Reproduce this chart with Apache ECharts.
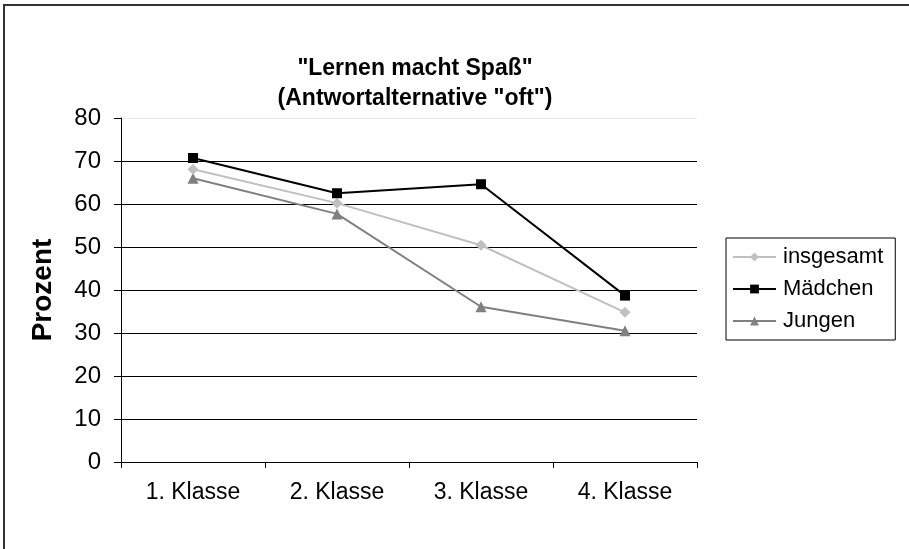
<!DOCTYPE html>
<html>
<head>
<meta charset="utf-8">
<script src="https://cdn.jsdelivr.net/npm/echarts@6/dist/echarts.min.js"></script>
<style>
  html, body { margin: 0; padding: 0; background: #fff; }
  #chart { width: 909px; height: 549px; }
</style>
</head>
<body>
<div id="chart"></div>
<script>
// Daten
const klassen = ['1. Klasse', '2. Klasse', '3. Klasse', '4. Klasse']
const insgesamt = [68.1, 60.2, 50.4, 34.8]
const maedchen = [70.7, 62.5, 64.6, 38.7]
const jungen = [66.0, 57.7, 36.1, 30.5]

const chart = echarts.init(document.getElementById('chart'))

const font = 'Arial, "Liberation Sans", sans-serif'

const option = {
  backgroundColor: '#fff',
  animation: false,
  title: {
    text: '"Lernen macht Spaß"\n(Antwortalternative "oft")',
    left: 410,
    top: 49,
    textAlign: 'center',
    textStyle: {
      fontFamily: font,
      fontSize: 23,
      fontWeight: 'bold',
      color: '#000',
      lineHeight: 30
    }
  },
  graphic: [
    {
      type: 'rect',
      shape: { x: 4, y: 5, width: 920, height: 560 },
      style: { fill: 'none', stroke: '#333', lineWidth: 2 },
      silent: true
    }
  ],
  legend: {
    orient: 'vertical',
    left: 726,
    top: 238,
    width: 167,
    padding: [8, 12, 8, 6],
    itemGap: 10,
    itemWidth: 43,
    itemHeight: 11,
    borderColor: '#000',
    borderWidth: 1,
    textStyle: { fontFamily: font, fontSize: 22, color: '#000', padding: [0, 0, 0, 2] },
    data: ['insgesamt', 'Mädchen', 'Jungen']
  },
  grid: {
    left: 121,
    right: 212,
    top: 118,
    bottom: 87
  },
  xAxis: {
    type: 'category',
    data: klassen,
    boundaryGap: true,
    axisLine: { lineStyle: { color: '#000', width: 1 } },
    axisTick: { show: true, length: 6, alignWithLabel: false, lineStyle: { color: '#000' } },
    axisLabel: { fontFamily: font, fontSize: 23, color: '#000', margin: 19 },
    splitLine: { show: false }
  },
  yAxis: {
    type: 'value',
    min: 0,
    max: 80,
    interval: 10,
    name: 'Prozent',
    nameLocation: 'middle',
    nameGap: 64,
    nameRotate: 90,
    nameTextStyle: { fontFamily: font, fontSize: 28, fontWeight: 'bold', color: '#000' },
    axisLine: { show: true, lineStyle: { color: '#000', width: 1 } },
    axisTick: { show: true, length: 7, lineStyle: { color: '#000' } },
    axisLabel: { fontFamily: font, fontSize: 24, color: '#000', margin: 20 },
    splitLine: {
      show: true,
      lineStyle: {
        color: ['#000', '#000', '#000', '#000', '#000', '#000', '#000', '#000', '#e8e8e8'],
        width: 1
      }
    }
  },
  series: [
    {
      name: 'insgesamt',
      type: 'line',
      data: insgesamt,
      symbol: 'diamond',
      symbolSize: 11,
      lineStyle: { color: '#c0c0c0', width: 2 },
      itemStyle: { color: '#c0c0c0' },
      z: 3
    },
    {
      name: 'Mädchen',
      type: 'line',
      data: maedchen,
      symbol: 'rect',
      symbolSize: 10,
      lineStyle: { color: '#000', width: 2 },
      itemStyle: { color: '#000' },
      z: 4
    },
    {
      name: 'Jungen',
      type: 'line',
      data: jungen,
      symbol: 'triangle',
      symbolSize: 11,
      lineStyle: { color: '#808080', width: 2 },
      itemStyle: { color: '#808080' },
      z: 2
    }
  ]
}

chart.setOption(option)
</script>
</body>
</html>
